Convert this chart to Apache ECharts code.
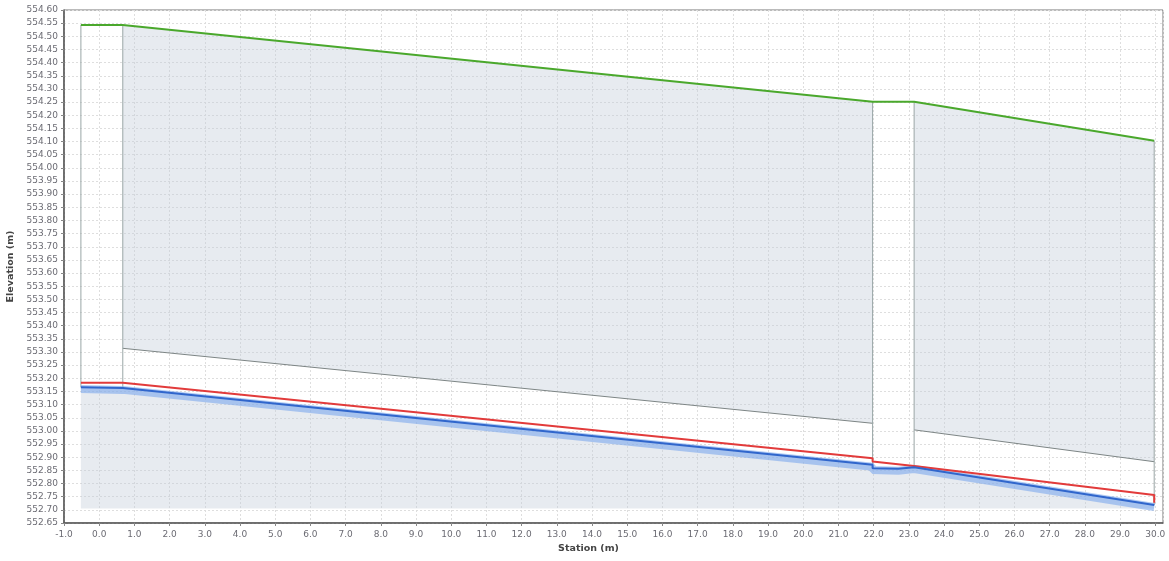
<!DOCTYPE html>
<html><head><meta charset="utf-8">
<script src="https://cdn.jsdelivr.net/npm/echarts@6/dist/echarts.min.js"></script>
<style>html,body{margin:0;padding:0;background:#fff}#c{width:1169px;height:561px}</style>
</head><body><div id="c"></div>
<script>
// ---- data (station m, elevation m) ----
const xTicksMin = -1.0, xTicksMax = 30.22, xInterval = 1.0;
const yMin = 552.65, yMax = 554.60, yInterval = 0.05;

// ground surface (green)
const groundX = [-0.52, 0.67, 21.97, 23.15, 29.97];
const groundY = [554.543, 554.543, 554.251, 554.251, 554.103];

// pipe crown lines (bottom of soil cover)
const crown1X = [0.67, 21.97];
const crown1Y = [553.314, 553.029];
const crown2X = [23.15, 29.97];
const crown2Y = [553.004, 552.883];

// hydraulic grade (red)
const hglX = [-0.52, 0.67, 21.97, 21.97, 23.15, 29.97, 29.97];
const hglY = [553.183, 553.183, 552.896, 552.884, 552.867, 552.756, 552.727];

// invert (blue)
const invX = [-0.52, 0.67, 21.97, 21.97, 22.7, 23.15, 29.97];
const invY = [553.166, 553.163, 552.871, 552.858, 552.856, 552.862, 552.718];

// bedding bottom
const beddingBottom = 552.705;

// structure walls
const wallX = [-0.52, 0.67, 21.97, 23.15, 29.97];
const wallTop = [554.543, 554.543, 554.251, 554.251, 554.103];
const wallBot = [553.166, 553.163, 552.858, 552.862, 552.718];

// ---- build ----
const pts = (xs, ys) => xs.map((x, i) => [x, ys[i]]);
const soilPolys = [
  pts(groundX.slice(1, 3), groundY.slice(1, 3)).concat(pts(crown1X, crown1Y).reverse()),
  pts(groundX.slice(3, 5), groundY.slice(3, 5)).concat(pts(crown2X, crown2Y).reverse())
];
const beddingPoly = pts(invX, invY).concat([[invX[invX.length-1], beddingBottom], [invX[0], beddingBottom]]);
const allPolys = soilPolys.concat([beddingPoly]);

const chart = echarts.init(document.getElementById('c'), null, {renderer: 'canvas'});
const font = 'DejaVu Sans';
const lbl = {fontFamily: font, fontSize: 9, color: '#6b6b73'};

const series = [
  {
    type: 'custom', name: 'soil', silent: true, z: 1,
    data: allPolys.map(p => p[0]),
    renderItem: (params, api) => ({
      type: 'polygon',
      shape: {points: allPolys[params.dataIndex].map(p => api.coord(p))},
      style: {fill: 'rgba(196,205,218,0.40)', stroke: null}
    })
  },
  {type: 'line', name: 'crown1', data: pts(crown1X, crown1Y), symbol: 'none', z: 3,
   lineStyle: {color: '#7d8585', width: 1}},
  {type: 'line', name: 'crown2', data: pts(crown2X, crown2Y), symbol: 'none', z: 3,
   lineStyle: {color: '#7d8585', width: 1}}
];
wallX.forEach((x, i) => series.push({
  type: 'line', name: 'wall' + i, data: [[x, wallTop[i]], [x, wallBot[i]]], symbol: 'none', z: 3,
  lineStyle: {color: '#9aa6a6', width: 1}
}));
series.push(
  {type: 'line', name: 'HGL', data: pts(hglX, hglY), symbol: 'none', z: 5,
   lineStyle: {color: '#e23b3b', width: 2}},
  {type: 'line', name: 'invBand', data: pts(invX, invY.map(v => v - 0.007)), symbol: 'none', z: 4,
   lineStyle: {color: 'rgba(125,168,236,0.6)', width: 8}},
  {type: 'line', name: 'invert', data: pts(invX, invY), symbol: 'none', z: 6,
   lineStyle: {color: '#3066cc', width: 2}},
  {type: 'line', name: 'ground', data: pts(groundX, groundY), symbol: 'none', z: 6,
   lineStyle: {color: '#4aa82c', width: 2}}
);

chart.setOption({
  animation: false,
  backgroundColor: '#ffffff',
  grid: {left: 64, right: 6, top: 10, bottom: 38, containLabel: false, outerBoundsMode: 'none',
         show: true, borderColor: '#777', borderWidth: 1, backgroundColor: 'transparent'},
  xAxis: {
    type: 'value', min: xTicksMin, max: xTicksMax, interval: xInterval,
    name: 'Station (m)', nameLocation: 'middle', nameGap: 19,
    nameTextStyle: {fontFamily: font, fontSize: 9.5, fontWeight: 'bold', color: '#444', padding: [0, 50, 0, 0]},
    axisLine: {onZero: false, lineStyle: {color: '#555', width: 1.5}},
    axisTick: {show: true, length: 3, lineStyle: {color: '#888'}},
    axisLabel: Object.assign({margin: 7, showMaxLabel: false,
      formatter: v => Math.abs(v - Math.round(v)) < 1e-6 ? v.toFixed(1) : ''}, lbl),
    splitLine: {show: true, lineStyle: {color: '#dedede', width: 1, type: [2, 2]}}
  },
  yAxis: {
    type: 'value', min: yMin, max: yMax, interval: yInterval,
    name: 'Elevation (m)', nameLocation: 'middle', nameGap: 41, nameRotate: 90,
    nameTextStyle: {fontFamily: font, fontSize: 9.5, fontWeight: 'bold', color: '#444'},
    axisLine: {show: true, onZero: false, lineStyle: {color: '#555', width: 1.5}},
    axisTick: {show: true, length: 3, lineStyle: {color: '#888'}},
    axisLabel: Object.assign({margin: 6, formatter: v => v.toFixed(2)}, lbl),
    splitLine: {show: true, lineStyle: {color: '#dedede', width: 1, type: [2, 2]}}
  },
  series: series
});
</script>
</body></html>
